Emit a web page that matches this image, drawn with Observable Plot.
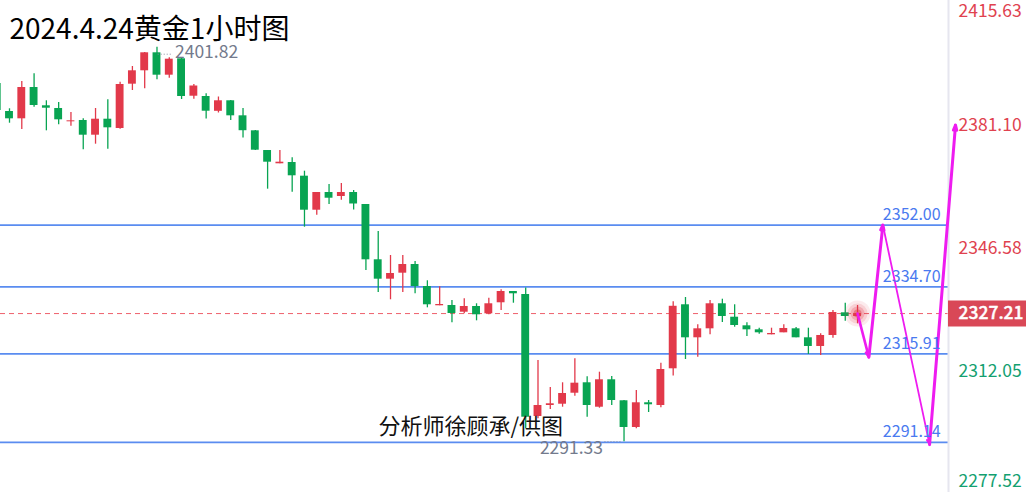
<!DOCTYPE html>
<html><head><meta charset="utf-8">
<script src="https://cdn.jsdelivr.net/npm/d3@7"></script>
<script src="https://cdn.jsdelivr.net/npm/@observablehq/plot@0.6"></script>
<style>html,body{margin:0;padding:0;background:#fff;} #chart svg{display:block}</style>
</head><body><div id="chart"></div>
<script>
// ---- data ----
const title = "2024.4.24黄金1小时图";
const credit = "分析师徐顾承/供图";
const opens  = [2391.65,2383.81,2381.76,2390.53,2385.41,2384.65,2380.92,2381.29,2377.17,2381.65,
                2379.05,2391.46,2395.21,2400.25,2393.98,2398.57,2388.09,2388.01,2383.86,2386.81,
                2382.60,2378.40,2372.88,2369.16,2369.52,2365.69,2356.16,2361.12,2360.00,2361.12,
                2357.76,2342.27,2336.84,2338.52,2340.95,2334.79,2329.39,2329.47,2327.59,2329.19,
                2327.14,2330.23,2333.39,2332.55,2298.38,2301.46,2301.82,2304.90,2307.82,2300.98,
                2308.66,2302.78,2295.30,2302.22,2301.46,2311.74,2329.67,2320.42,2322.94,2329.95,
                2326.19,2323.78,2322.66,2321.26,2321.82,2322.94,2320.42,2317.99,2321.07,2327.42,
                2326.39];
const highs  = [2392.00,2384.57,2392.21,2394.37,2386.81,2386.33,2383.53,2381.76,2384.65,2387.09,
                2392.02,2396.41,2400.33,2401.82,2398.85,2398.65,2391.37,2388.77,2387.87,2386.89,
                2384.65,2378.49,2372.88,2372.88,2370.84,2367.09,2361.12,2363.36,2363.64,2361.68,
                2357.76,2350.20,2343.47,2343.47,2341.79,2336.39,2334.71,2330.87,2331.35,2329.95,
                2331.51,2333.87,2333.39,2334.37,2314.06,2306.50,2307.82,2314.54,2309.50,2310.79,
                2309.58,2302.86,2305.66,2302.86,2313.31,2330.51,2331.71,2324.06,2330.87,2331.23,
                2329.67,2324.62,2323.11,2323.11,2324.06,2323.31,2323.11,2321.54,2328.07,2330.11,
                2329.47];
const lows   = [2383.50,2380.53,2378.77,2385.01,2378.40,2380.08,2379.69,2373.08,2374.65,2373.25,
                2378.85,2389.69,2390.17,2392.69,2393.14,2387.17,2387.23,2381.71,2383.39,2381.29,
                2376.39,2372.88,2362.05,2369.16,2361.21,2351.40,2354.76,2357.76,2358.96,2356.22,
                2339.27,2333.11,2331.07,2333.11,2332.75,2328.82,2329.39,2324.62,2327.14,2325.18,
                2326.87,2328.07,2330.11,2294.93,2297.73,2300.34,2300.98,2304.06,2298.18,2300.70,
                2301.46,2291.33,2294.93,2299.50,2300.82,2309.72,2314.34,2314.99,2321.26,2324.71,
                2323.39,2320.79,2321.43,2321.26,2321.82,2320.42,2315.74,2315.46,2320.31,2325.07,
                2324.34];
const closes = [2384.09,2381.76,2390.53,2385.49,2384.73,2381.48,2381.20,2377.17,2381.65,2379.24,
                2391.37,2395.21,2400.25,2393.98,2398.46,2388.01,2390.95,2383.89,2386.81,2382.60,
                2378.43,2372.97,2369.61,2369.61,2365.80,2356.16,2361.12,2359.52,2361.12,2357.90,
                2342.27,2336.84,2338.43,2340.95,2334.79,2329.67,2329.75,2327.23,2329.19,2326.87,
                2329.95,2333.39,2332.75,2298.18,2301.46,2301.94,2304.82,2307.71,2301.46,2308.66,
                2302.86,2295.30,2302.22,2301.66,2311.54,2329.25,2320.42,2322.94,2329.95,2326.39,
                2323.87,2322.66,2321.82,2321.63,2323.03,2320.42,2317.99,2321.07,2327.51,2326.39,
                2327.21];
const levels = [2352.00, 2334.70, 2315.91, 2291.14];
const levelLabels = ["2352.00", "2334.70", "2315.91", "2291.14"];
const axisTicks = [2415.63, 2381.10, 2346.58, 2312.05, 2277.52];
const currentPrice = 2327.21;
const peakIndex = 13, peakValue = 2401.82;
const troughIndex = 51, troughValue = 2291.33;
const pathIndex = [70, 70.92, 72.06, 75.86, 77.97];
const pathValue = [2327.21, 2315.0, 2352.0, 2290.5, 2380.0];

// ---- build ----
const RED = "#e2394a", GREEN = "#08a452", BLUE = "#5a8cf0", MAGENTA = "#ee1cf0";
const candles = opens.map((o, i) => ({i, o, h: highs[i], l: lows[i], c: closes[i], up: closes[i] >= o}));
const segs = d3.pairs(pathIndex.map((x, k) => ({x, y: pathValue[k]}))).map(([a, b], k) => ({x1: a.x, y1: a.y, x2: b.x, y2: b.y, w: [2.6, 3, 1.8, 3][k]}));
const xDomain = [0.2677, 77.40];
const yDomain = [2277.09, 2414.90];
const ppu = 492 / (yDomain[1] - yDomain[0]);
const clampY = v => Math.min(Math.max(v, yDomain[0] + 15 / ppu), yDomain[1] - 7 / ppu);
const xEnd = xDomain[1] + 78 * (xDomain[1] - xDomain[0]) / 948;
const last = opens.length - 1;

const chart = Plot.plot({
  width: 1026, height: 492,
  marginLeft: 0, marginTop: 0, marginBottom: 0, marginRight: 78,
  style: {fontFamily: "'Noto Sans CJK SC','Noto Sans',sans-serif", background: "#fff"},
  x: {domain: xDomain, axis: null},
  y: {domain: yDomain, axis: null},
  marks: [
    Plot.ruleY(levels, {stroke: BLUE, strokeWidth: 1.8}),
    Plot.ruleY([currentPrice], {stroke: "#ee5f6b", strokeDasharray: "5,4", strokeWidth: 1}),
    Plot.frame({anchor: "right", stroke: "#e6e6ef", strokeWidth: 2}),
    Plot.ruleX(candles, {x: "i", y1: "l", y2: "h", stroke: d => d.up ? RED : GREEN, strokeWidth: 1.3}),
    Plot.rect(candles, {x1: d => d.i - 0.32, x2: d => d.i + 0.32, y1: "o", y2: "c", fill: d => d.up ? RED : GREEN}),
    Plot.dot([currentPrice], {x: () => last, y: d => d, r: 13, fill: RED, fillOpacity: 0.1}),
    Plot.dot([currentPrice], {x: () => last, y: d => d, r: 10, fill: RED, fillOpacity: 0.15}),
    Plot.dot([currentPrice], {x: () => last, y: d => d, r: 7, fill: RED, fillOpacity: 0.25}),
    Plot.dot([currentPrice], {x: () => last, y: d => d, r: 4, fill: RED, fillOpacity: 0.45}),
    Plot.arrow(segs, {x1: "x1", y1: "y1", x2: "x2", y2: "y2", stroke: MAGENTA, strokeWidth: "w", headLength: 8, headAngle: 36}),
    Plot.text(levels, {x: () => pathIndex[2], y: d => d, text: (d, i) => levelLabels[i], dy: -10, textAnchor: "start", fill: "#4a7af0", fontSize: 16}),
    Plot.text(axisTicks, {frameAnchor: "right", y: clampY, text: d => d.toFixed(2), dx: 10, dy: 4, textAnchor: "start", fontSize: 17.5, fill: d => d > currentPrice ? "#e0424f" : "#13a070"}),
    Plot.ruleY([currentPrice], {x1: () => xDomain[1], x2: () => xEnd, stroke: "#d94857", strokeWidth: 26}),
    Plot.text([currentPrice], {frameAnchor: "right", y: d => d, text: d => d.toFixed(2), dx: 10, textAnchor: "start", fontSize: 17.5, fontWeight: 500, stroke: "#fff", strokeWidth: 0.4, fill: "#fff"}),
    Plot.ruleY([peakValue], {x1: () => peakIndex + 0.1, x2: () => peakIndex + 1.3, dy: 7, stroke: "#8a90a0", strokeDasharray: "1,2", strokeWidth: 1}),
    Plot.text([peakValue], {x: () => peakIndex, y: d => d, text: d => d.toFixed(2), dx: 18, dy: 5, textAnchor: "start", fontSize: 17.5, fill: "#737a8c"}),
    Plot.ruleY([troughValue], {x1: () => troughIndex - 1.55, x2: () => troughIndex - 0.1, dy: 0, stroke: "#8a90a0", strokeDasharray: "1,2", strokeWidth: 1}),
    Plot.text([troughValue], {x: () => troughIndex, y: d => d, text: d => d.toFixed(2), dx: -21, dy: 7, textAnchor: "end", fontSize: 17.5, fill: "#737a8c"}),
    Plot.text([title], {frameAnchor: "top-left", dx: 9, dy: 19, lineAnchor: "top", textAnchor: "start", fontSize: 28, fill: "#000"}),
    Plot.text([credit], {x: () => 31.02, y: () => 2295.4, textAnchor: "start", fontSize: 22, fill: "#111"})
  ]
});
document.getElementById("chart").appendChild(chart);
</script>
</body></html>
